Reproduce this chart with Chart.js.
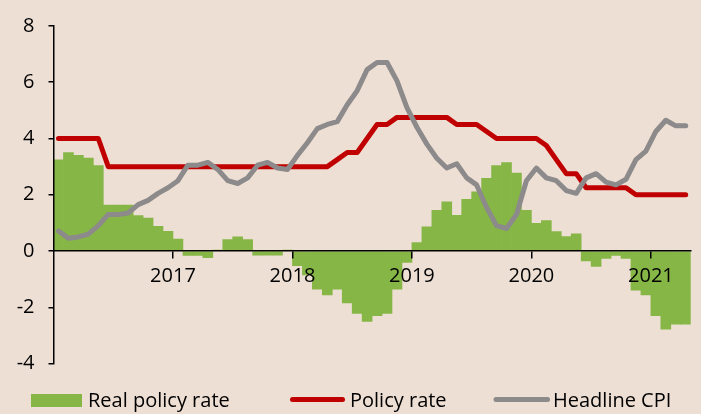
<!DOCTYPE html>
<html>
<head>
<meta charset="utf-8">
<script src="https://cdn.jsdelivr.net/npm/chart.js@4.4.0/dist/chart.umd.min.js"></script>
<style>
  html, body { margin: 0; padding: 0; background: #eedfd4; }
</style>
</head>
<body>
<canvas id="rates" width="701" height="414"></canvas>
<script>

// monthly, Jan 2016 .. Apr 2021
var firstYear = 2016;
var yearLabels = ['2017', '2018', '2019', '2020', '2021'];

var realRate = [
    3.24, 3.5, 3.4, 3.3, 3.04, 1.63, 1.63, 1.63, 1.26, 1.17, 0.88, 0.7,
    0.42, -0.16, -0.16, -0.24, 0.03, 0.41, 0.5, 0.41, -0.15, -0.15, -0.15, 0.03,
    -0.52, -0.85, -1.36, -1.56, -1.36, -1.85, -2.22, -2.5, -2.3, -2.22, -1.36, -0.41,
    0.3, 0.86, 1.45, 1.75, 1.27, 1.84, 2.1, 2.58, 3.04, 3.14, 2.77, 1.45,
    0.98, 1.08, 0.69, 0.51, 0.61, -0.35, -0.55, -0.26, -0.16, -0.26, -1.39, -1.56,
    -2.3, -2.78, -2.6, -2.6
];
var policyRate = [
    4, 4, 4, 4, 4, 3, 3, 3, 3, 3, 3, 3,
    3, 3, 3, 3, 3, 3, 3, 3, 3, 3, 3, 3,
    3, 3, 3, 3, 3.25, 3.5, 3.5, 4, 4.5, 4.5, 4.75, 4.75,
    4.75, 4.75, 4.75, 4.75, 4.5, 4.5, 4.5, 4.25, 4, 4, 4, 4,
    4, 3.75, 3.25, 2.75, 2.75, 2.25, 2.25, 2.25, 2.25, 2.25, 2, 2,
    2, 2, 2, 2
];
var headlineCpi = [
    0.71, 0.45, 0.5, 0.6, 0.9, 1.3, 1.3, 1.35, 1.65, 1.8, 2.05, 2.25,
    2.5, 3.05, 3.05, 3.15, 2.9, 2.5, 2.4, 2.6, 3.05, 3.15, 2.95, 2.9,
    3.4, 3.85, 4.35, 4.5, 4.6, 5.2, 5.7, 6.45, 6.7, 6.7, 6.05, 5.1,
    4.4, 3.8, 3.3, 2.95, 3.1, 2.6, 2.35, 1.55, 0.9, 0.8, 1.3, 2.5,
    2.95, 2.6, 2.5, 2.15, 2.05, 2.6, 2.75, 2.45, 2.35, 2.55, 3.25, 3.55,
    4.25, 4.65, 4.45, 4.45
];

var green = '#86b646';
var red = '#c00000';
var grey = '#8c8a8a';
var bg = '#eedfd4';
var fontFamily = '"Open Sans", "Noto Sans", sans-serif';

// month n sits in the middle of its slot on the linear axis
function toPoints(arr) {
    return arr.map(function (v, i) {
        return { x: i + 0.5, y: v };
    });
}

var bgPlugin = {
    id: 'bg',
    beforeDraw: function (chart) {
        var ctx = chart.ctx;
        ctx.save();
        ctx.fillStyle = bg;
        ctx.fillRect(0, 0, chart.width, chart.height);
        ctx.restore();
    }
};

// legend drawn by hand, spacing is uneven in the original
var legendPlugin = {
    id: 'bottomLegend',
    afterDraw: function (chart) {
        var ctx = chart.ctx;
        var ds = chart.data.datasets;
        ctx.save();
        ctx.font = '20px ' + fontFamily;
        ctx.textBaseline = 'alphabetic';

        ctx.fillStyle = green;
        ctx.fillRect(31, 394, 51, 13);
        ctx.fillStyle = '#000';
        ctx.fillText(ds[2].label, 88, 406.5);

        ctx.lineWidth = 5;
        ctx.lineCap = 'round';
        ctx.strokeStyle = red;
        ctx.beginPath();
        ctx.moveTo(292.5, 399.5);
        ctx.lineTo(342.5, 399.5);
        ctx.stroke();
        ctx.fillText(ds[1].label, 350, 406.5);

        ctx.strokeStyle = grey;
        ctx.beginPath();
        ctx.moveTo(496, 399.5);
        ctx.lineTo(547.5, 399.5);
        ctx.stroke();
        ctx.fillText(ds[0].label, 553, 406.5);
        ctx.restore();
    }
};

var ctx = document.getElementById('rates').getContext('2d');
var rateChart = new Chart(ctx, {
    type: 'bar',
    data: {
        datasets: [{
            type: 'line',
            label: 'Headline CPI',
            data: toPoints(headlineCpi),
            borderColor: grey,
            borderWidth: 5,
            pointRadius: 0,
            borderCapStyle: 'round',
            borderJoinStyle: 'round',
            order: 0
        }, {
            type: 'line',
            label: 'Policy rate',
            data: toPoints(policyRate),
            borderColor: red,
            borderWidth: 5,
            pointRadius: 0,
            borderCapStyle: 'round',
            borderJoinStyle: 'round',
            order: 1
        }, {
            type: 'bar',
            label: 'Real policy rate',
            data: toPoints(realRate),
            backgroundColor: green,
            borderWidth: 0,
            barPercentage: 1,
            categoryPercentage: 1,
            order: 2
        }]
    },
    options: {
        responsive: false,
        animation: false,
        layout: { padding: { top: 22, right: 10.3, bottom: 50.5, left: 0 } },
        plugins: {
            legend: { display: false },
            tooltip: { enabled: false }
        },
        scales: {
            x: {
                type: 'linear',
                min: 0,
                max: 64,
                offset: false,
                position: { y: 0 },
                afterBuildTicks: function (scale) {
                    scale.ticks = yearLabels.map(function (l, i) {
                        return { value: (i + 1) * 12 };
                    });
                },
                afterFit: function (scale) {
                    // labels sit well inside the axis, no side padding needed
                    scale.paddingLeft = 0;
                    scale.paddingRight = 0;
                },
                ticks: {
                    z: 1,   // year labels are printed over the bars
                    autoSkip: false,
                    maxRotation: 0,
                    color: '#000',
                    padding: 6,
                    font: { family: fontFamily, size: 20 },
                    callback: function (v) {
                        return String(firstYear + v / 12);
                    }
                },
                grid: { z: 1, offset: false, drawOnChartArea: false, drawTicks: true, tickLength: 7, color: '#000', lineWidth: 1.5 },
                border: { z: 1, display: true, color: '#000', width: 1.5 }
            },
            y: {
                min: -4,
                max: 8,
                afterFit: function (scale) { scale.width = 53.5; },
                ticks: {
                    stepSize: 2,
                    color: '#000',
                    padding: 14,
                    font: { family: fontFamily, size: 20 }
                },
                grid: { drawOnChartArea: false, drawTicks: true, tickLength: 5, color: '#000', lineWidth: 1.5 },
                border: { z: 1, display: true, color: '#000', width: 1.5 }
            }
        }
    },
    plugins: [bgPlugin, legendPlugin]
});

</script>
</body>
</html>
